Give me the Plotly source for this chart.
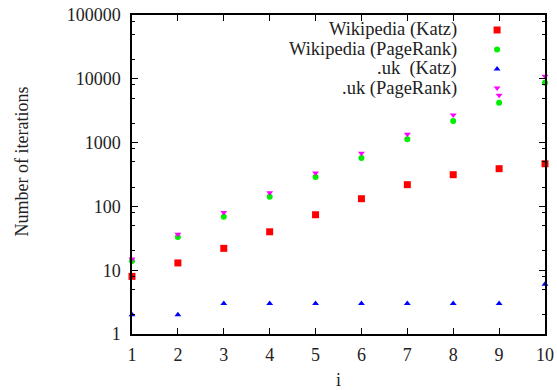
import plotly.graph_objects as go

iters = [1, 2, 3, 4, 5, 6, 7, 8, 9, 10]
wiki_katz = [8, 13, 22, 40, 74, 132, 219, 314, 390, 466]
wiki_pagerank = [14, 33, 69, 142, 289, 574, 1125, 2183, 4200, 8700]
uk_katz = [2, 2, 3, 3, 3, 3, 3, 3, 3, 6]
uk_pagerank = [15, 36.5, 80, 164, 333, 680, 1350, 2700, 5500, 11000]

series_names = ["Wikipedia (Katz)", "Wikipedia (PageRank)", ".uk  (Katz)", ".uk (PageRank)"]
series_vals = [wiki_katz, wiki_pagerank, uk_katz, uk_pagerank]
colors = ["#ff0000", "#00ee00", "#0000ff", "#ff00ff"]
symbols = ["square", "circle", "triangle-up", "triangle-down"]
sizes = [7, 6, 6, 6]

y_ticks = [1, 10, 100, 1000, 10000, 100000]
y_minor = [m * 10 ** e for e in range(0, 5) for m in (2, 5, 8)]

FONT = "Liberation Serif, Times New Roman, serif"
TXT = "#222"

fig = go.Figure()
for name, vals, c, s, sz in zip(series_names, series_vals, colors, symbols, sizes):
    fig.add_trace(go.Scatter(x=iters, y=vals, mode="markers", name=name,
                             marker=dict(color=c, symbol=s, size=sz, line=dict(width=0)),
                             showlegend=False, cliponaxis=False))

# legend samples (right of text, gnuplot style) on an overlay axis
leg_x = 0.884
leg_y = [0.953, 0.892, 0.831, 0.771]
for name, c, s, sz, ly in zip(series_names, colors, symbols, sizes, leg_y):
    fig.add_trace(go.Scatter(x=[leg_x], y=[ly], mode="markers", xaxis="x2", yaxis="y2",
                             marker=dict(color=c, symbol=s, size=sz, line=dict(width=0)),
                             showlegend=False, hoverinfo="skip"))
    fig.add_annotation(x=0.792, y=ly, xref="paper", yref="paper", text=name,
                       showarrow=False, xanchor="right", yanchor="middle",
                       font=dict(family=FONT, size=18.5, color=TXT))

# axis titles
fig.add_annotation(x=-0.267, y=0.54, xref="paper", yref="paper", text="Number of iterations",
                   textangle=-90, showarrow=False, xanchor="center", yanchor="middle",
                   font=dict(family=FONT, size=18, color=TXT))
fig.add_annotation(x=0.500, y=-0.145, xref="paper", yref="paper", text="i",
                   showarrow=False, xanchor="center", yanchor="middle",
                   font=dict(family=FONT, size=18, color=TXT))

fig.update_layout(
    width=557, height=390,
    margin=dict(l=132, r=12, t=15, b=56, autoexpand=False),
    paper_bgcolor="white", plot_bgcolor="white",
    font=dict(family=FONT, size=18, color=TXT),
    showlegend=False,
    xaxis=dict(range=[1, 10], tickvals=iters, ticks="inside", ticklen=6, tickcolor="black",
               showline=True, linecolor="black", linewidth=1.5, mirror="ticks",
               showgrid=False, zeroline=False, automargin=False, ticklabelstandoff=4),
    yaxis=dict(type="log", range=[0, 5], tickvals=y_ticks, ticktext=[str(v) for v in y_ticks],
               ticks="inside", ticklen=6, tickcolor="black",
               showline=True, linecolor="black", linewidth=1.5, mirror="ticks",
               showgrid=False, zeroline=False, automargin=False, ticklabelstandoff=6,
               minor=dict(tickvals=y_minor, ticks="inside", ticklen=3, tickcolor="black")),
    xaxis2=dict(overlaying="x", range=[0, 1], visible=False),
    yaxis2=dict(overlaying="y", range=[0, 1], visible=False),
)

fig.write_html("out.html", config={"displayModeBar": False},
               post_script="document.body.style.margin='0px';")
